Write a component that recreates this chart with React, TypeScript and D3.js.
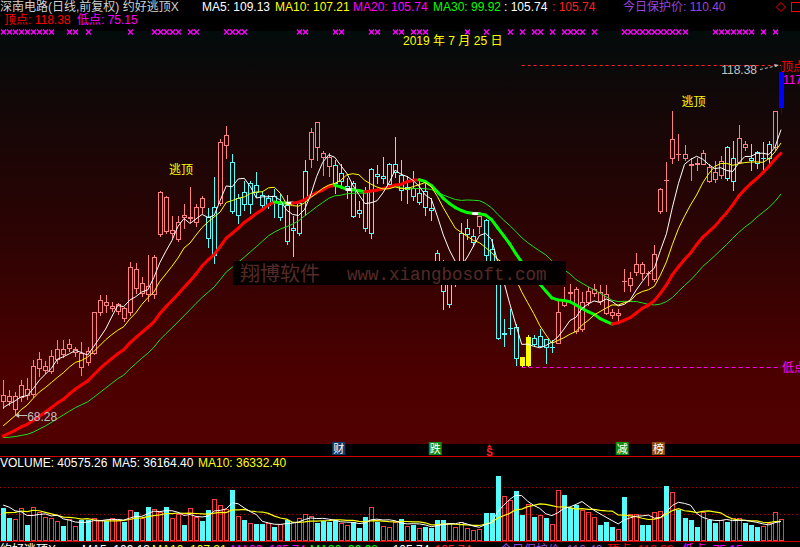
import React, { useEffect } from "react";
import * as d3 from "d3";

// Daily bars (forward-adjusted), oldest first
const opens = [
  71.09, 70.98, 69.07, 70.84, 72.03, 71.23, 75.05, 74.68, 74.58, 76.26,
  77.69, 77.92, 77.35, 77.12, 77.45, 77.2, 82.95, 84.44, 83.58, 83.19,
  83.58, 82.95, 89.23, 85.78, 86.78, 85.64, 94.25, 99.42, 94.39, 93.53,
  96.84, 96.41, 95.83, 99.28, 96.55, 91.24, 98.56, 106.89, 104.45, 96.84,
  100.14, 98.42, 101.15, 99.71, 98.27, 99.57, 96.55, 98.27, 94.82, 94.39,
  99.14, 104.88, 110.19, 105.74, 105.17, 104.02, 101.72, 100.57, 101.43, 97.56,
  100.14, 94.39, 102.73, 102.15, 101.29, 103.01, 102.58, 100.57, 100.72, 98.7,
  100.28, 97.84, 91.52, 90.09, 84.2, 87.21, 90.38, 94.25, 93.1, 95.26,
  96.12, 92.1, 88.22, 79.89, 80.68, 80.89, 76.59, 75.44, 79.31, 78.16,
  79.17, 78.0, 78.6, 84.63, 85.85, 86.35, 80.61, 84.49, 85.78, 85.92,
  85.64, 83.05, 82.62, 87.5, 86.93, 88.8, 89.94, 88.6, 87.79, 97.41,
  101.98, 105.03, 105.6, 105.6, 104.16, 104.31, 104.16, 103.73, 103.01, 102.58,
  106.6, 101.72, 104.45, 107.03, 105.05, 105.89, 105.07, 105.03, 106.6, 112.35,
];
const highs = [
  73.39, 72.0, 71.7, 73.42, 73.71, 76.3, 77.45, 76.16, 77.74, 79.17,
  79.17, 79.36, 78.2, 78.88, 78.2, 83.19, 85.59, 85.59, 84.63, 84.4,
  83.91, 90.38, 90.13, 88.22, 91.38, 91.38, 100.43, 99.71, 96.84, 96.84,
  98.56, 100.99, 98.56, 99.71, 97.99, 102.44, 107.9, 109.76, 105.74, 100.0,
  101.86, 101.86, 103.16, 100.43, 99.85, 100.72, 100.0, 99.85, 96.84, 98.85,
  104.88, 109.48, 110.19, 106.17, 105.88, 104.88, 104.31, 102.3, 101.86, 98.99,
  101.0, 103.73, 104.16, 105.31, 104.45, 108.18, 104.88, 102.58, 103.3, 101.86,
  101.58, 99.42, 92.1, 90.67, 89.8, 89.8, 95.83, 96.41, 94.97, 96.84,
  96.41, 93.68, 88.94, 82.19, 83.62, 81.47, 76.59, 79.89, 79.89, 80.75,
  79.17, 79.17, 85.06, 86.78, 87.21, 86.78, 86.07, 86.78, 87.21, 87.07,
  87.07, 83.62, 83.62, 89.37, 88.94, 91.67, 90.38, 89.08, 92.68, 100.86,
  104.59, 111.92, 108.62, 107.03, 105.17, 105.17, 106.32, 104.31, 104.74, 105.46,
  106.89, 107.61, 109.91, 107.61, 107.18, 106.17, 107.46, 107.61, 111.77, 118.38,
];
const lows = [
  69.31, 69.7, 68.28, 70.27, 70.55, 70.84, 73.86, 74.29, 74.29, 75.77,
  76.59, 77.45, 76.73, 74.0, 75.44, 76.97, 82.62, 82.95, 83.19, 82.76,
  81.76, 82.52, 85.78, 85.35, 84.63, 85.06, 93.96, 94.39, 93.82, 93.25,
  95.11, 95.83, 95.26, 97.13, 92.39, 90.09, 98.27, 105.03, 97.13, 95.69,
  97.56, 97.13, 99.42, 97.56, 97.84, 96.55, 96.12, 92.82, 91.1, 94.1,
  96.84, 103.73, 104.74, 102.58, 102.44, 100.0, 100.72, 99.28, 96.55, 96.55,
  94.68, 93.68, 101.43, 101.43, 100.86, 102.3, 98.99, 98.56, 98.99, 98.42,
  96.84, 96.12, 88.22, 83.48, 83.77, 86.78, 90.09, 93.53, 92.53, 94.39,
  89.95, 89.66, 79.17, 78.16, 79.89, 75.4, 75.15, 75.3, 78.16, 78.16,
  75.73, 77.31, 78.6, 83.91, 84.63, 80.03, 80.32, 84.06, 85.35, 84.2,
  82.76, 82.19, 81.47, 86.07, 86.07, 88.36, 87.79, 86.93, 87.5, 97.13,
  97.41, 104.31, 104.74, 104.74, 101.86, 103.3, 104.16, 101.58, 101.58, 102.15,
  101.86, 100.43, 104.31, 106.17, 103.3, 103.59, 102.87, 104.31, 106.17, 111.49,
];
const closes = [
  70.27, 70.27, 70.98, 72.52, 71.13, 75.29, 76.26, 75.29, 76.73, 77.69,
  77.06, 78.41, 77.69, 75.19, 75.91, 82.95, 84.73, 84.06, 83.81, 84.16,
  82.15, 89.41, 86.5, 87.21, 85.64, 90.95, 100.14, 94.68, 94.82, 95.83,
  96.55, 96.55, 97.99, 97.99, 93.68, 97.99, 107.32, 108.33, 97.41, 99.28,
  98.42, 101.43, 100.14, 98.27, 99.28, 98.85, 98.42, 93.25, 95.11, 98.56,
  103.16, 108.76, 106.6, 105.17, 103.88, 101.43, 102.87, 101.0, 96.7, 97.13,
  94.97, 103.45, 102.44, 102.44, 104.16, 104.16, 100.43, 100.86, 99.57, 100.0,
  97.99, 97.56, 88.65, 86.07, 89.23, 89.66, 94.39, 95.11, 93.96, 96.7,
  91.24, 90.09, 79.31, 79.96, 80.75, 76.44, 75.44, 79.46, 78.45, 79.6,
  78.02, 78.05, 83.05, 84.06, 85.78, 80.32, 84.49, 86.07, 86.35, 84.63,
  82.91, 82.62, 82.91, 87.43, 87.93, 89.94, 88.65, 88.55, 91.38, 100.57,
  101.92, 107.75, 105.57, 105.03, 104.02, 104.16, 105.74, 101.75, 102.04, 104.69,
  102.15, 105.03, 107.9, 106.6, 104.8, 104.31, 105.12, 107.03, 111.77, 117.42,
];
const volumes = [
  61700, 43100, 40700, 60600, 29600, 62400, 53100, 45000, 42000, 37000,
  27800, 40700, 27800, 38900, 38900, 42000, 38900, 37000, 43100, 38900,
  35700, 57400, 53100, 43100, 63500, 59300, 53100, 62400, 42000, 49400,
  29600, 61700, 45000, 37000, 57400, 77200, 66700, 59300, 94400, 46900,
  38900, 32800, 31500, 31500, 32800, 26500, 31500, 38900, 35700, 43100,
  49400, 46900, 32800, 37600, 35700, 38900, 32800, 29600, 35700, 24600,
  43900, 62400, 35700, 27800, 26500, 35700, 40700, 27800, 29600, 24600,
  26500, 23500, 38900, 38900, 32800, 26500, 34600, 23500, 20400, 22200,
  52400, 52400, 120400, 83300, 75900, 92600, 48100, 68000, 45000, 48100,
  43100, 30900, 94400, 85200, 61700, 66700, 57400, 53100, 45000, 29600,
  34600, 26500, 22200, 81500, 50000, 49400, 29600, 29600, 53100, 55600,
  101900, 90200, 57400, 43100, 38900, 26500, 53100, 38900, 32800, 38900,
  35700, 42000, 42000, 33000, 29802, 25300, 28400, 32600, 53946.74, 40575.26,
];
// Sessions before the first drawn bar, used to seed the moving averages
const priorCloses = [
  69, 68, 67.5, 66.5, 66, 63, 62, 61.5, 61, 61.7,
  62, 62.5, 63, 63.5, 64, 64.5, 64, 63.5, 64.5, 66.3,
  63, 63.5, 64, 64.5, 65.5, 67.5, 68.8, 69.6, 70.33,
];
const priorVolumes = [36000, 38000, 35000, 40000, 38000, 62000, 75000, 70000, 64000];

// Bar tone from the indicator: u = strong, d = weak, y = bottom signal, b = today
const toneRuns: [number, number, string][] = [
  [0, 33, "u"], [34, 35, "d"], [36, 37, "u"], [38, 50, "d"], [51, 54, "u"],
  [55, 78, "d"], [79, 79, "u"], [80, 85, "d"], [86, 87, "y"], [88, 91, "d"],
  [92, 119, "u"], [120, 121, "d"], [122, 123, "u"], [124, 127, "d"],
  [128, 128, "u"], [129, 129, "b"],
];
const signalMarks = [
  0, 1, 2, 3, 4, 5, 6, 7, 8, 11, 12, 14, 21, 25, 26, 27, 28, 29, 31, 32,
  37, 38, 39, 40, 49, 50, 55, 56, 61, 62, 65, 66, 68, 69, 70, 77, 80, 84, 86,
  88, 89, 91, 93, 94, 95, 96, 98, 103, 104, 105, 106, 107, 108, 109, 110, 111,
  112, 113, 118, 119, 120, 121, 122, 123, 124, 126, 128,
];
const escapeBars = [29, 114];
const escapeLevels = [102.8, 112.5];
const eventBars = [56, 72, 81, 103, 109];
const eventGlyphs = ["财", "跌", "S", "减", "榜"];
const eventFills = ["#0f3c70", "#138a13", "", "#138a13", "#8c4a0c"];
const guardPrice = 110.4;
const stockTitle = "深南电路(日线,前复权) 约好逃顶X";
const dateLabel = "2019 年 7 月 25 日";
const volumeGrid = [50000, 100000];

const FONT = "'Liberation Sans', 'Noto Sans CJK SC', sans-serif";
const CJK = "'Noto Sans CJK SC', 'Liberation Sans', sans-serif";
const toneColor: Record<string, string> = { u: "#ff8080", d: "#54fcfc", y: "#ffff00", b: "#0000ff" };
const UP_VOL = "#ff3c3c";
const DOWN_VOL = "#54fcfc";

function movingAvg(history: number[], values: number[], k: number) {
  const all = history.concat(values);
  const off = history.length;
  return values.map((_, i) => d3.mean(all.slice(off + i - k + 1, off + i + 1)) as number);
}

export default function App() {
  useEffect(() => {
    document.body.style.margin = "0";
    document.body.style.background = "#000";
  }, []);

  const n = closes.length;
  const last = n - 1;
  const tone: string[] = new Array(n).fill("u");
  toneRuns.forEach(([a, b, t]) => {
    for (let i = a; i <= b; i++) tone[i] = t;
  });

  const x = d3.scaleLinear().domain([0, last]).range([3.1, 781]);
  const y = d3.scaleLinear().domain([d3.min(lows) as number, d3.max(highs) as number]).range([414.9, 65]);
  const yv = d3.scaleLinear().domain([0, d3.max(volumes) as number]).range([541, 476]);
  const px = (i: number) => Math.round(x(i)) + 0.5;
  const snap = (v: number) => Math.round(v) + 0.5;

  const ma5 = movingAvg(priorCloses, closes, 5);
  const ma10 = movingAvg(priorCloses, closes, 10);
  const ma20 = movingAvg(priorCloses, closes, 20);
  const ma30 = movingAvg(priorCloses, closes, 30);
  const vma5 = movingAvg(priorVolumes, volumes, 5);
  const vma10 = movingAvg(priorVolumes, volumes, 10);
  const f2 = (v: number) => v.toFixed(2);

  const priceLine = d3.line<number>().x((_, i) => x(i)).y((v) => y(v));
  const volLine = d3.line<number>().x((_, i) => x(i)).y((v) => yv(v));

  // visible extremes and the swing low / top since then
  const minIdx = d3.minIndex(lows);
  const lowIdx = 80 + d3.minIndex(lows.slice(80));
  const topIdx = lowIdx + d3.maxIndex(highs.slice(lowIdx));
  const lowVal = lows[lowIdx];
  const topVal = highs[topIdx];

  const headerY = 11;
  const footerY = 554;

  return (
    <svg width={800} height={547} style={{ position: "fixed", left: 0, top: 0, display: "block", background: "#000" }}>
      <defs>
        <linearGradient id="pane" x1="0" y1="0" x2="0" y2="1">
          <stop offset="0" stopColor="#030b0b" />
          <stop offset="0.2" stopColor="#150707" />
          <stop offset="0.5" stopColor="#2d0303" />
          <stop offset="0.82" stopColor="#4b0000" />
          <stop offset="1" stopColor="#520000" />
        </linearGradient>
      </defs>
      <rect x={0} y={0} width={800} height={547} fill="#000" />
      <rect x={0} y={31} width={800} height={413} fill="url(#pane)" />

      {/* header */}
      <g fontFamily={FONT} fontSize={12}>
        <text x={0} y={headerY} fill="#d0d0d0">{stockTitle}</text>
        <text x={202} y={headerY} fill="#ffffff">MA5: {f2(ma5[last])}</text>
        <text x={275} y={headerY} fill="#ffff00">MA10: {f2(ma10[last])}</text>
        <text x={353} y={headerY} fill="#ff00ff">MA20: {f2(ma20[last])}</text>
        <text x={433} y={headerY} fill="#00ff00">MA30: {f2(ma30[last])}</text>
        <text x={504} y={headerY} fill="#ffffff">: {f2(ma20[last])}</text>
        <text x={552} y={headerY} fill="#ff2020">: {f2(ma20[last])}</text>
        <text x={623} y={headerY} fill="#9646dc">今日保护价: {f2(guardPrice)}</text>
        <text x={4} y={24} fill="#ff0000">顶点: {f2(topVal)}</text>
        <text x={77} y={24} fill="#ff00ff">低点: {f2(lowVal)}</text>
      </g>
      <path d="M781,2.5 L785.5,7 L781,11.5 L776.5,7 Z" fill="none" stroke="#ff0000" strokeWidth={1} />
      <rect x={791.5} y={2.5} width={9} height={9} fill="none" stroke="#ff0000" strokeWidth={1} />

      {/* signal marks */}
      <g stroke="#ff00ff" strokeWidth={1.4}>
        {signalMarks.map((i) => (
          <path key={i} d={`M${px(i) - 2.5},29.5 l5,5 M${px(i) + 2.5},29.5 l-5,5`} />
        ))}
      </g>

      <text x={403} y={45} fontFamily={FONT} fontSize={12} fill="#ffff00">{dateLabel}</text>

      {/* candles */}
      <g shapeRendering="crispEdges">
        {closes.map((c, i) => {
          const o = opens[i];
          const t = tone[i];
          const col = toneColor[t];
          const cx = px(i);
          const yTop = snap(y(Math.max(o, c)));
          const yBot = snap(y(Math.min(o, c)));
          const yH = snap(y(highs[i]));
          const yL = snap(y(lows[i]));
          if (t === "y" || t === "b") {
            return (
              <g key={i}>
                <line x1={cx} x2={cx} y1={yH} y2={yL} stroke={col} />
                <rect x={cx - 2.5} y={yTop - 0.5} width={5} height={Math.max(1, yBot - yTop + 1)} fill={col} />
              </g>
            );
          }
          if (yBot - yTop < 1) {
            return (
              <g key={i} stroke={col}>
                <line x1={cx} x2={cx} y1={yH} y2={yL} />
                <line x1={cx - 2.5} x2={cx + 2.5} y1={yTop} y2={yTop} />
              </g>
            );
          }
          return (
            <g key={i} stroke={col} fill="none">
              {yH < yTop && <line x1={cx} x2={cx} y1={yH} y2={yTop} />}
              {yL > yBot && <line x1={cx} x2={cx} y1={yBot} y2={yL} />}
              <rect x={cx - 2} y={yTop} width={4} height={yBot - yTop} />
            </g>
          );
        })}
      </g>

      {/* moving averages */}
      <path d={priceLine(ma30) || ""} fill="none" stroke="#1ee01e" strokeWidth={1} />
      <g strokeWidth={3} strokeLinecap="round">
        {ma20.slice(1).map((v, j) => {
          const prev = ma20[j];
          const d = v - prev;
          const col = Math.abs(d) < 0.04 ? "#ffffff" : d > 0 ? "#ff0000" : "#00ff00";
          return <line key={j} x1={x(j)} y1={y(prev)} x2={x(j + 1)} y2={y(v)} stroke={col} />;
        })}
      </g>
      <path d={priceLine(ma10) || ""} fill="none" stroke="#ffff00" strokeWidth={1} />
      <path d={priceLine(ma5) || ""} fill="none" stroke="#ffffff" strokeWidth={1} />

      {/* swing top / low guides */}
      <line x1={x(lowIdx)} x2={x(last)} y1={snap(y(topVal))} y2={snap(y(topVal))} stroke="#ff2020" strokeDasharray="3,3" />
      <line x1={x(lowIdx)} x2={x(last)} y1={snap(y(lowVal))} y2={snap(y(lowVal))} stroke="#ff00ff" strokeDasharray="4,3" />

      {/* price annotations */}
      <g fontFamily={FONT} fontSize={12}>
        <text x={x(topIdx) - 24} y={y(topVal) + 9} fill="#c0c0c0" textAnchor="end">{f2(topVal)}</text>
        <line x1={x(topIdx) - 21} y1={y(topVal) + 4.5} x2={x(topIdx) - 3} y2={y(topVal) + 0.5} stroke="#c0c0c0" strokeDasharray="3,2" />
        <path d={`M${x(topIdx) - 2},${y(topVal)} l-5,-1 l1.5,3 Z`} fill="#c0c0c0" />
        <text x={x(topIdx)} y={y(topVal) + 6} fill="#ff0000" fontFamily={CJK}>顶点</text>
        <text x={x(topIdx) + 2} y={y(topVal) + 19} fill="#ff00ff">{f2(closes[last])}</text>
        <text x={x(last) + 1} y={y(lowVal) + 5} fill="#ff00ff" fontFamily={CJK}>低点</text>
        <line x1={x(minIdx) + 1} x2={x(minIdx) + 12} y1={snap(y(lows[minIdx]))} y2={snap(y(lows[minIdx]))} stroke="#c0c0c0" />
        <path d={`M${x(minIdx)},${snap(y(lows[minIdx]))} l4,-2.5 l0,5 Z`} fill="#c0c0c0" />
        <text x={x(minIdx) + 12} y={y(lows[minIdx]) + 6} fill="#c0c0c0">{f2(lows[minIdx])}</text>
        {escapeBars.map((b, k) => (
          <text key={b} x={x(b) + 3} y={y(escapeLevels[k])} fill="#ffff00" textAnchor="middle" fontFamily={CJK}>逃顶</text>
        ))}
      </g>

      {/* watermark */}
      <rect x={233} y={261} width={333} height={24} fill="#050000" />
      <text x={240} y={281} fill="#552a26" fontSize={20} fontFamily={CJK}>翔博软件</text>
      <text x={347} y={280} fill="#552a26" fontSize={17.5} fontFamily="'Liberation Mono', 'DejaVu Sans Mono', monospace">www.xiangbosoft.com</text>

      {/* event strip */}
      <rect x={0} y={444} width={800} height={12} fill="#000" />
      {eventBars.map((b, k) => {
        const cx = x(b) - 2;
        if (eventGlyphs[k] === "S") {
          return (
            <g key={b}>
              <path d={`M${cx},444.5 l2.5,3 l-5,0 Z`} fill="#ff2020" />
              <text x={cx} y={456} fill="#ff2020" fontSize={10} fontWeight="bold" fontFamily={FONT} textAnchor="middle">S</text>
            </g>
          );
        }
        return (
          <g key={b}>
            <rect x={cx - 6.5} y={442} width={13} height={13} fill={eventFills[k]} />
            <text x={cx} y={453} fill="#ffffff" fontSize={11} fontFamily={CJK} textAnchor="middle">{eventGlyphs[k]}</text>
          </g>
        );
      })}
      <line x1={0} x2={800} y1={456.5} y2={456.5} stroke="#d00000" />

      {/* volume pane */}
      <g fontFamily={FONT} fontSize={12}>
        <text x={0} y={467} fill="#ffffff">VOLUME: {f2(volumes[last])}</text>
        <text x={112} y={467} fill="#ffffff">MA5: {f2(vma5[last])}</text>
        <text x={198} y={467} fill="#ffff00">MA10: {f2(vma10[last])}</text>
      </g>
      {volumeGrid.map((v) => (
        <line key={v} x1={0} x2={800} y1={snap(yv(v))} y2={snap(yv(v))} stroke="#b00000" strokeDasharray="1,3" />
      ))}
      <g shapeRendering="crispEdges">
        {volumes.map((v, i) => {
          const cx = px(i);
          const top = snap(yv(v));
          const up = closes[i] >= opens[i];
          return up ? (
            <rect key={i} x={cx - 2} y={top} width={4} height={540.5 - top} fill="none" stroke={UP_VOL} />
          ) : (
            <rect key={i} x={cx - 2.5} y={top - 0.5} width={5} height={541 - top} fill={DOWN_VOL} />
          );
        })}
      </g>
      <path d={volLine(vma10) || ""} fill="none" stroke="#ffff00" strokeWidth={1.2} />
      <path d={volLine(vma5) || ""} fill="none" stroke="#ffffff" strokeWidth={1} />
      <line x1={0} x2={800} y1={541.5} y2={541.5} stroke="#d00000" />

      {/* footer readout */}
      <g fontFamily={FONT} fontSize={12}>
        <text x={0} y={footerY} fill="#ffffff">约好逃顶X</text>
        <text x={82} y={footerY} fill="#ffffff">MA5: {f2(ma5[last])}</text>
        <text x={152} y={footerY} fill="#ffff00">MA10: {f2(ma10[last])}</text>
        <text x={231} y={footerY} fill="#ff00ff">MA20: {f2(ma20[last])}</text>
        <text x={310} y={footerY} fill="#00ff00">MA30: {f2(ma30[last])}</text>
        <text x={386} y={footerY} fill="#ffffff">: {f2(ma20[last])}</text>
        <text x={428} y={footerY} fill="#ff2020">: {f2(ma20[last])}</text>
        <text x={500} y={footerY} fill="#9646dc">今日保护价: {f2(guardPrice)}</text>
        <text x={607} y={footerY} fill="#ff0000">顶点: {f2(topVal)}</text>
        <text x={682} y={footerY} fill="#ff00ff">低点: {f2(lowVal)}</text>
      </g>
    </svg>
  );
}
